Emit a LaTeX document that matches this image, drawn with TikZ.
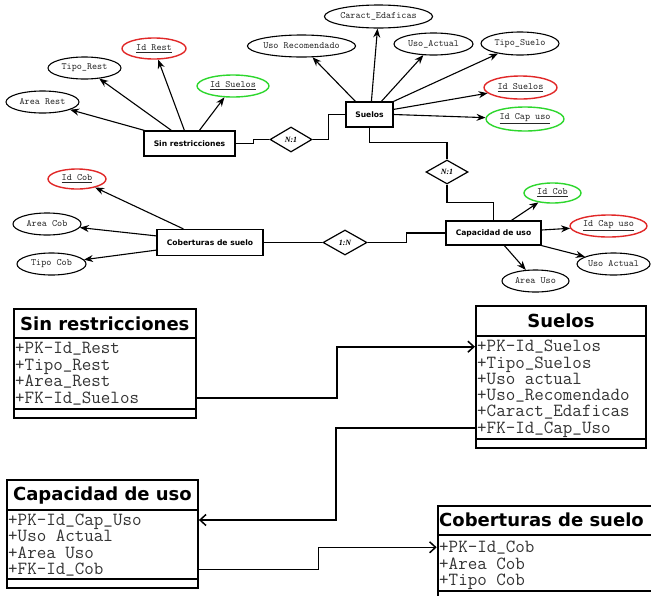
\documentclass[tikz,border=0pt]{standalone}
\usepackage{fontspec}
\setmainfont{DejaVu Sans}
\newfontfamily\diafont{Liberation Serif}
\usetikzlibrary{shapes.geometric,arrows.meta,calc}
\definecolor{keyred}{RGB}{225,40,40}
\definecolor{keygreen}{RGB}{45,215,45}
\newcommand{\usc}{\raisebox{1.8pt}{\_}}
\tikzset{
  attr/.style={ellipse, draw, line width=1.1pt, inner sep=0pt, font=\ttfamily\fontsize{9.7}{10}\selectfont, text=black!85},
  keyr/.style={attr, draw=keyred, line width=1.4pt},
  keyg/.style={attr, draw=keygreen, line width=1.4pt},
  ent/.style={rectangle, draw, line width=1.2pt, inner sep=0pt, font=\bfseries\fontsize{7.6}{9}\selectfont},
  rel/.style={diamond, draw, line width=1.2pt, inner sep=0pt, font=\diafont\bfseries\itshape\fontsize{8}{9}\selectfont},
  erarrow/.style={-{Stealth[length=9pt,width=7pt]}, line width=1.1pt},
  erline/.style={line width=1.1pt},
  cls/.style={rectangle, draw, line width=1.9pt, inner sep=0pt, anchor=north west},
  clstitle/.style={font=\bfseries\fontsize{18}{20}\selectfont},
  row/.style={anchor=west, inner sep=0pt, text height=10pt, text depth=0pt, font=\ttfamily\fontsize{18.5}{18.5}\selectfont, text=black!80},
  umlarrow/.style={-{Straight Barb[length=6pt,width=11pt,line width=1.5pt]}, line width=1.6pt}
}
\begin{document}
\begin{tikzpicture}[x=1pt,y=-1pt]
\clip (0,0) rectangle (651,595);
\fill[white] (0,0) rectangle (651,595);

% ---------- ER entities ----------
\node[ent, minimum width=91pt, minimum height=25pt] (sr) at (189.5,143.5) {Sin restricciones};
\node[ent, minimum width=47pt, minimum height=25pt] (su) at (369.5,114.5) {Suelos};
\node[ent, minimum width=95pt, minimum height=24pt] (cu) at (493.5,233) {Capacidad de uso};
\node[ent, minimum width=106pt, minimum height=26pt] (cb) at (210,242.5) {Coberturas de suelo};

% ---------- relationships ----------
\node[rel, minimum width=42pt, minimum height=25pt] (d1) at (291,139.5) {N:1};
\node[rel, minimum width=42pt, minimum height=24pt] (d2) at (447,172) {N:1};
\node[rel, minimum width=44pt, minimum height=25pt] (d3) at (345,242.5) {1:N};

% ---------- attributes ----------
\node[attr, minimum width=73pt, minimum height=22pt] (arest) at (42.5,102) {Area Rest};
\node[attr, minimum width=73pt, minimum height=22pt] (tiporest) at (84.5,68) {Tipo\_Rest};
\node[keyr, minimum width=64pt, minimum height=21pt] (idrest) at (154,48.5) {\underline{Id Rest}};
\node[keyg, minimum width=72pt, minimum height=22pt] (idsuelosa) at (233,86) {\underline{Id Suelos}};

\node[attr, minimum width=103pt, minimum height=22pt] (usorec) at (301.5,46) {Uso Recomendado};
\node[attr, minimum width=105pt, minimum height=23pt] (caract) at (378.5,16.5) {Caract\_Edaficas};
\node[attr, minimum width=79pt, minimum height=22pt] (usoact) at (433.5,44) {Uso\_Actual};
\node[attr, minimum width=78pt, minimum height=23pt] (tiposuelo) at (520,43.5) {Tipo\_Suelo};
\node[keyr, minimum width=73pt, minimum height=23pt] (idsuelosb) at (520.5,87.5) {\underline{Id Suelos}};
\node[keyg, minimum width=78pt, minimum height=24pt] (idcapa) at (525,119) {\underline{Id Cap uso}};

\node[keyg, minimum width=57pt, minimum height=20pt] (idcoba) at (552.5,193) {\underline{Id Cob}};
\node[keyr, minimum width=77pt, minimum height=22pt] (idcapb) at (608.5,226) {\underline{Id Cap uso}};
\node[attr, minimum width=73pt, minimum height=22pt] (usoactb) at (613.5,264) {Uso Actual};
\node[attr, minimum width=67pt, minimum height=22pt] (areauso) at (535.5,281) {Area Uso};

\node[keyr, minimum width=58pt, minimum height=20pt] (idcobb) at (77,179) {\underline{Id Cob}};
\node[attr, minimum width=68pt, minimum height=22pt] (areacob) at (47,224) {Area Cob};
\node[attr, minimum width=69pt, minimum height=22pt] (tipocob) at (51.5,264) {Tipo Cob};

% ---------- ER attribute arrows ----------
\draw[erarrow] ([xshift=1pt]sr.north west) -- (arest);
\draw[erarrow] ([xshift=28pt]sr.north west) -- (tiporest);
\draw[erarrow] ([xshift=41pt]sr.north west) -- (idrest);
\draw[erarrow] ([xshift=56pt]sr.north west) -- (idsuelosa);

\draw[erarrow] ([xshift=10pt]su.north west) -- (usorec);
\draw[erarrow] ([xshift=26pt]su.north west) -- (caract);
\draw[erarrow] ([xshift=36pt]su.north west) -- (usoact);
\draw[erarrow] (su.north east) -- (tiposuelo);
\draw[erarrow] ([yshift=-8pt]su.north east) -- (idsuelosb);
\draw[erarrow] (su.east) -- (idcapa);

\draw[erarrow] ([xshift=66pt]cu.north west) -- (idcoba);
\draw[erarrow] ([yshift=3pt]cu.east) -- (idcapb);
\draw[erarrow] (cu.south east) -- (usoactb);
\draw[erarrow] ([xshift=59pt]cu.south west) -- (areauso);

\draw[erarrow] ([xshift=27pt]cb.north west) -- (idcobb);
\draw[erarrow] ([yshift=-7pt]cb.north west) -- (areacob);
\draw[erarrow] ([yshift=6pt]cb.south west) -- (tipocob);

% ---------- ER relationship lines ----------
\draw[erline] (sr.east) -- ++(18,0) |- (d1.west);
\draw[erline] (d1.east) -- ++(16,0) |- (su.west);
\draw[erline] (su.south) -- ++(0,14.7) -| (d2.north);
\draw[erline] (d2.south) -- ++(0,17.7) -| (cu.north);
\draw[erline] (cu.west) -- ++(-39,0) |- (d3.east);
\draw[erline] (d3.west) -- (cb.east);

% ---------- UML: Sin restricciones ----------
\node[cls, minimum width=182.3pt, minimum height=29.6pt, clstitle] (srt) at (12.7,307.7) {Sin restricciones};
\node[cls, minimum width=182.3pt, minimum height=71pt] (sra) at (12.7,337.3) {};
\node[cls, minimum width=182.3pt, minimum height=8.4pt] (srm) at (12.7,408.3) {};
\node[row] (sr1) at (15,348.5) {+PK-Id\usc Rest};
\node[row] (sr2) at (15,365) {+Tipo\usc Rest};
\node[row] (sr3) at (15,381.5) {+Area\usc Rest};
\node[row] (sr4) at (15,398) {+FK-Id\usc Suelos};

% ---------- UML: Suelos ----------
\node[cls, minimum width=170pt, minimum height=30pt, clstitle] (sut) at (475,305) {Suelos};
\node[cls, minimum width=170pt, minimum height=103.3pt] (sua) at (475,335) {};
\node[cls, minimum width=170pt, minimum height=8.4pt] (sum) at (475,438.3) {};
\node[row] (su1) at (477,346.7) {+PK-Id\usc Suelos};
\node[row] (su2) at (477,363) {+Tipo\usc Suelos};
\node[row] (su3) at (477,379.3) {+Uso actual};
\node[row] (su4) at (477,395.6) {+Uso\usc Recomendado};
\node[row] (su5) at (477,411.9) {+Caract\usc Edaficas};
\node[row] (su6) at (477,428.2) {+FK-Id\usc Cap\usc Uso};

% ---------- UML: Capacidad de uso ----------
\node[cls, minimum width=191pt, minimum height=30.3pt, clstitle] (cut) at (6,479) {Capacidad de uso};
\node[cls, minimum width=191pt, minimum height=69pt] (cua) at (6,509.3) {};
\node[cls, minimum width=191pt, minimum height=8.4pt] (cum) at (6,578.3) {};
\node[row] (cu1) at (8,520) {+PK-Id\usc Cap\usc Uso};
\node[row] (cu2) at (8,536.7) {+Uso Actual};
\node[row] (cu3) at (8,553.3) {+Area Uso};
\node[row] (cu4) at (8,569.3) {+FK-Id\usc Cob};

% ---------- UML: Coberturas de suelo ----------
\node[cls, minimum width=230pt, minimum height=29.3pt] (cbt) at (436.7,505) {};
\node[clstitle, anchor=west, inner sep=0pt] (cbn) at (439,519.7) {Coberturas de suelo};
\node[cls, minimum width=230pt, minimum height=55.7pt] (cba) at (436.7,534.3) {};
\node[cls, minimum width=230pt, minimum height=8.4pt] (cbm) at (436.7,590) {};
\node[row] (cb1) at (439,547.3) {+PK-Id\usc Cob};
\node[row] (cb2) at (439,564) {+Area Cob};
\node[row] (cb3) at (439,580) {+Tipo Cob};

% ---------- UML connectors ----------
\draw[umlarrow] (sr4 -| sra.east) -- ++(140,0) |- (su1 -| sua.west);
\draw[umlarrow] (su6 -| sua.west) -- ++(-139,0) |- (cu1 -| cua.east);
\draw[umlarrow] (cu4 -| cua.east) -- ++(119.7,0) |- (cb1 -| cba.west);
\end{tikzpicture}
\end{document}
